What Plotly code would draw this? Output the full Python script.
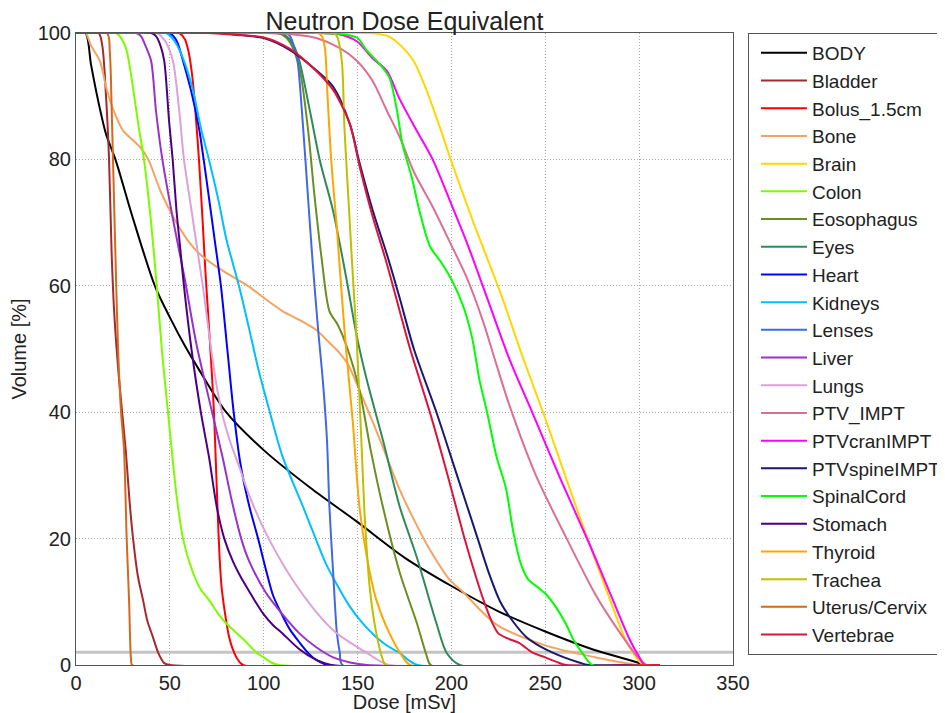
import plotly.graph_objects as go

# ---------------- data (dose [mSv], volume [%]) ----------------
body_dose = [0, 5, 8, 12, 16, 21, 30, 42, 50, 58, 66, 80, 100, 125, 150, 175, 200, 225, 250, 275, 300, 302, 311]
body_vol = [100, 100, 95, 89, 84, 80, 71, 60, 55, 50.5, 46.5, 40, 34, 28, 22.6, 17, 12.5, 8.5, 5.3, 2.5, 0.3, 0, 0]

bladder_dose = [0, 12, 14, 16, 17.6, 19, 20.5, 23, 26.5, 28.5, 30.4, 33, 35.7, 38, 41, 44, 47, 50, 311]
bladder_vol = [100, 100, 98, 90, 80, 65, 55, 45, 34, 26, 20, 14, 10.3, 7, 4.4, 1.8, 0.3, 0, 0]

bolus_dose = [0, 55, 58, 60, 62, 63.5, 65.5, 67.5, 69, 70.5, 72, 73.5, 74.5, 75.5, 76.5, 77.5, 78.5, 80, 81.5, 83.5,
              85.5, 89, 311]
bolus_vol = [100, 100, 99, 97, 93, 88, 80, 70, 62, 55, 48, 40, 32, 24, 17, 12.5, 10, 7, 4.5, 2.5, 1.2, 0, 0]

bone_dose = [0, 5, 8, 12.8, 16, 19.7, 25, 34, 38.5, 45, 51.6, 60, 66, 75, 83.6, 91.6, 99.6, 110, 119, 128, 135, 140,
             145, 151, 162, 172.5, 180, 188, 199, 206, 224, 250, 277, 295, 300, 311]
bone_vol = [100, 100, 98, 95.5, 91.5, 88, 84.6, 82, 80, 75, 71, 67, 65, 63, 61.4, 60, 58.2, 56, 54.6, 53, 51, 49.5,
            47.5, 43.5, 35.6, 27.7, 23, 18.5, 13.5, 11.6, 6.4, 3.1, 1.2, 0.2, 0, 0]

brain_dose = [0, 155, 160, 167, 173, 180, 186, 190, 195, 199, 212, 226, 238, 250, 261, 272.5, 283, 292, 297, 301, 303, 311]
brain_vol = [100, 100, 99.9, 99.4, 98, 95.5, 91.5, 88.3, 84.1, 80.5, 69.8, 59, 48.7, 39, 29.6, 20, 11.5, 4.5, 1.8, 0.3, 0, 0]

colon_dose = [0, 21, 23, 26.6, 29, 31, 33.5, 36.2, 40, 43, 46, 49, 51, 53.5, 57, 62.3, 66, 70.8, 76, 80,
              85, 90.5, 96, 100, 104, 108, 311]
colon_vol = [100, 100, 99.6, 97.6, 94, 90, 85, 80, 70, 60, 49, 40, 34, 27, 20, 14.6, 12.2, 10.3, 8, 6.6,
             5.2, 3.7, 2, 1.2, 0.4, 0, 0]

eso_dose = [0, 105, 110, 114, 119, 123.5, 127, 131, 135, 139.5, 144, 151, 157, 163.5, 172.5, 181.6, 187, 189, 311]
eso_vol = [100, 100, 99.7, 98.5, 94.5, 85, 74.4, 64, 56, 53.8, 50.6, 43.5, 34, 25, 14.6, 6.6, 1.3, 0, 0]

eyes_dose = [0, 108, 112, 116, 119, 124.6, 130, 137, 144, 149.6, 155, 163.5, 172.5, 181.6, 192, 197.5, 204.5, 311]
eyes_vol = [100, 100, 99.5, 98, 95.6, 87.7, 79.7, 71.8, 61.2, 52, 45, 35.6, 25, 17, 6.6, 1.9, 0, 0]

heart_dose = [0, 49, 51.6, 54, 57, 62, 65.5, 68, 70.8, 74, 77.2, 80.6, 84, 87.5, 92, 97, 101.6, 105, 110, 114,
              119, 124, 128, 134, 311]
heart_vol = [100, 100, 99.6, 98.5, 95.6, 90, 85, 80, 74, 67, 60, 50, 40, 32, 25.5, 20, 14.6, 11, 7.8, 5.6,
             3.6, 1.8, 0.8, 0, 0]

kidneys_dose = [0, 48, 50, 53, 57, 62, 66.5, 70.8, 76, 80, 86.8, 92, 97, 102.8, 110, 121, 127, 133.5, 146,
                153, 160, 166, 172.5, 177, 182, 311]
kidneys_vol = [100, 100, 99.6, 98.5, 96, 91.3, 85, 80, 73.4, 67.5, 60, 53.5, 47, 40.5, 33, 25, 20.5, 15.8, 9.2,
               6.5, 4.4, 3, 1.9, 0.8, 0, 0]

lenses_dose = [0, 112, 114, 116, 118, 121, 123.5, 126, 129, 131.5, 133.7, 135, 137, 139, 140.5, 142, 311]
lenses_vol = [100, 100, 99.5, 98, 95.6, 85, 74.4, 64, 53, 45, 35.6, 25, 14.6, 5, 2, 0, 0]

liver_dose = [0, 32, 34.6, 37, 40, 42.6, 46, 52, 58, 64, 72.5, 78, 83, 88, 92, 101, 110, 119, 128, 137, 146, 155, 311]
liver_vol = [100, 100, 99.5, 98, 95.6, 87.7, 80, 70, 61, 51, 40, 33, 26, 20, 16.6, 11.5, 8, 5, 2.8, 1.2, 0.4, 0, 0]

lungs_dose = [0, 43, 45, 48, 51.6, 55, 57.5, 61, 64.5, 68, 71.5, 75, 78.5, 82.5, 86.8, 92.6, 103, 119, 137, 155, 167, 311]
lungs_vol = [100, 100, 99.6, 98.5, 95.6, 87.7, 80, 73, 66, 59, 51, 44, 39, 35, 31.5, 26.6, 19.8, 11.9, 5.5, 1.9, 0, 0]

ptv_dose = [0, 100, 115, 128, 140.6, 149.6, 158, 165.6, 172.5, 180, 190, 199, 208, 216.7, 224, 231, 245, 261.4,
            277, 290, 300, 304, 311]
ptv_vol = [100, 100, 99.8, 99.2, 97.6, 95.6, 92.4, 87.7, 83.5, 78, 72.5, 67, 61.4, 54.5, 47.5, 41, 30, 20,
           11, 5, 1, 0, 0]

cran_dose = [0, 130, 140, 149.6, 158, 165.6, 172.5, 181.6, 190, 199, 208, 216.7, 231, 243, 258, 273, 285, 295, 300, 303, 311]
cran_vol = [100, 100, 99.8, 98.7, 96, 94, 89.5, 84.5, 80, 73.6, 67, 60, 48.3, 40, 29.5, 19.5, 11, 4, 1.3, 0, 0]

spine_dose = [0, 75, 90, 100, 114, 128, 137, 146, 151, 158, 165.6, 172.5, 180, 192, 203, 214, 220, 226, 233, 240,
              250, 260, 268, 273, 311]
spine_vol = [100, 100, 99.6, 99.2, 97.3, 94.1, 91.5, 85.5, 79.5, 72, 65, 58, 50, 40, 30, 20, 14.5, 10, 6.8, 4.4,
             2.5, 1.2, 0.4, 0, 0]

cord_dose = [0, 130, 145, 150, 155, 162, 167, 171, 174, 179, 183, 188.5, 195, 200, 206, 211, 215, 219, 224, 229,
             233, 237, 241, 246, 251, 256, 261, 265, 270, 275, 311]
cord_vol = [100, 100, 99.7, 99.2, 97.2, 95, 92.9, 87.7, 82.3, 77, 71.8, 66.3, 63.5, 61, 57, 51.8, 45, 40, 33, 28,
            21, 16, 13.5, 12.3, 11, 9, 6.5, 4, 1.8, 0, 0]

stomach_dose = [0, 40, 42.6, 45, 47, 49.6, 51.5, 53.5, 55.5, 57.5, 61.5, 66.5, 70.8, 75, 79, 83.6, 88, 92, 96, 100, 105,
                110, 119, 128, 136, 311]
stomach_vol = [100, 100, 99.5, 98, 95.6, 86, 80, 72, 66, 60, 50, 40, 33, 25, 20, 16.4, 13.8, 11.8, 9.8, 8, 6.3,
               5, 2.5, 0.8, 0, 0]

thyroid_dose = [0, 129, 131, 132.6, 134, 136, 139, 141.6, 144, 147.5, 151, 155, 160, 167, 174, 178, 311]
thyroid_vol = [100, 100, 99.5, 97.6, 90, 79.7, 69, 58.5, 49.5, 38.3, 25, 17, 10.3, 5, 1.3, 0, 0]

trachea_dose = [0, 137, 139, 141.6, 143, 145, 147, 149.6, 152, 154, 156.6, 160, 163.5, 165, 311]
trachea_vol = [100, 100, 99.5, 95.6, 85, 74.4, 64, 51, 35.6, 22.5, 11.9, 5, 0.8, 0, 0]

uterus_dose = [0, 16.5, 18, 19, 19.7, 21, 22.4, 24, 25.6, 27, 28.3, 29.3, 30, 311]
uterus_vol = [100, 100, 97, 88, 80, 65, 50, 40, 34, 20, 10, 1, 0, 0]

vert_dose = [0, 70, 85, 100, 114, 128, 137, 146, 151, 158, 165.6, 172, 178, 189, 198, 207, 213, 218, 222, 225,
             230, 236, 243, 250, 256, 261, 311]
vert_vol = [100, 100, 99.7, 99.3, 97.5, 94, 91, 85.5, 79, 71, 63.5, 56.5, 50, 39.5, 30, 20, 14, 9.5, 6.5, 5,
            4.2, 3.5, 2, 1.2, 0.5, 0, 0]

reference_level = 2  # horizontal reference line [%]

structure_names = ["BODY", "Bladder", "Bolus_1.5cm", "Bone", "Brain", "Colon", "Eosophagus", "Eyes", "Heart",
                   "Kidneys", "Lenses", "Liver", "Lungs", "PTV_IMPT", "PTVcranIMPT", "PTVspineIMPT", "SpinalCord",
                   "Stomach", "Thyroid", "Trachea", "Uterus/Cervix", "Vertebrae"]

structure_colors = ["#000000", "#a52a2a", "#ff0000", "#f4a460", "#ffd700", "#7cfc00", "#6b8e23", "#2e8b57",
                    "#0000ff", "#00bfff", "#4169e1", "#9932cc", "#dda0dd", "#db7093", "#ff00ff", "#191970",
                    "#00ff00", "#4b0082", "#ffa500", "#bfbf00", "#d2691e", "#dc143c"]

series = [
    (body_dose, body_vol), (bladder_dose, bladder_vol), (bolus_dose, bolus_vol), (bone_dose, bone_vol),
    (brain_dose, brain_vol), (colon_dose, colon_vol), (eso_dose, eso_vol), (eyes_dose, eyes_vol),
    (heart_dose, heart_vol), (kidneys_dose, kidneys_vol), (lenses_dose, lenses_vol), (liver_dose, liver_vol),
    (lungs_dose, lungs_vol), (ptv_dose, ptv_vol), (cran_dose, cran_vol), (spine_dose, spine_vol),
    (cord_dose, cord_vol), (stomach_dose, stomach_vol), (thyroid_dose, thyroid_vol), (trachea_dose, trachea_vol),
    (uterus_dose, uterus_vol), (vert_dose, vert_vol),
]

FONT = "Liberation Sans, Arial, sans-serif"

# the page places the figure 8 px from the top-left corner of the window
FIG_W, FIG_H = 937, 705
M_L, M_R, M_T, M_B = 68, 212, 25, 48

fig = go.Figure()
for name, color, (xs, ys) in zip(structure_names, structure_colors, series):
    fig.add_trace(go.Scatter(
        x=xs, y=ys, name=name, mode="lines",
        line=dict(color=color, width=2, shape="spline", smoothing=0.8),
    ))

fig.add_hline(y=reference_level, line=dict(color="#c4c4c4", width=3), layer="below")

axis_common = dict(
    showline=True, linecolor="#555555", linewidth=1, mirror=True,
    showgrid=True, gridcolor="#a8a8a8", griddash="1px,2px", gridwidth=1,
    zeroline=False, ticks="", automargin=False,
    tickfont=dict(size=20, color="#222222", family=FONT),
)

fig.update_xaxes(range=[0, 350], dtick=50, tick0=0,
                 title=dict(text="Dose [mSv]", font=dict(size=20, color="#222222", family=FONT), standoff=0),
                 **axis_common)
fig.update_yaxes(range=[0, 100], dtick=20, tick0=0,
                 title=dict(text="Volume [%]", font=dict(size=20, color="#222222", family=FONT), standoff=8),
                 **axis_common)

plot_w = FIG_W - M_L - M_R
fig.update_layout(
    width=FIG_W, height=FIG_H,
    margin=dict(l=M_L, r=M_R, t=M_T, b=M_B, autoexpand=False),
    paper_bgcolor="white", plot_bgcolor="white",
    font=dict(family=FONT, color="#222222"),
    title=dict(text="Neutron Dose Equivalent", x=(M_L + plot_w / 2) / FIG_W, xref="container", xanchor="center",
               y=1 - 13 / FIG_H, yref="container", yanchor="middle",
               font=dict(size=25, color="#222222", family=FONT)),
    legend=dict(x=1.0228, xanchor="left", y=1, yanchor="top",
                bordercolor="#555555", borderwidth=1, bgcolor="white",
                font=dict(size=19, color="#222222", family=FONT),
                itemwidth=46, indentation=7, tracegroupgap=0),
    showlegend=True,
)

fig.write_html("out.html")
